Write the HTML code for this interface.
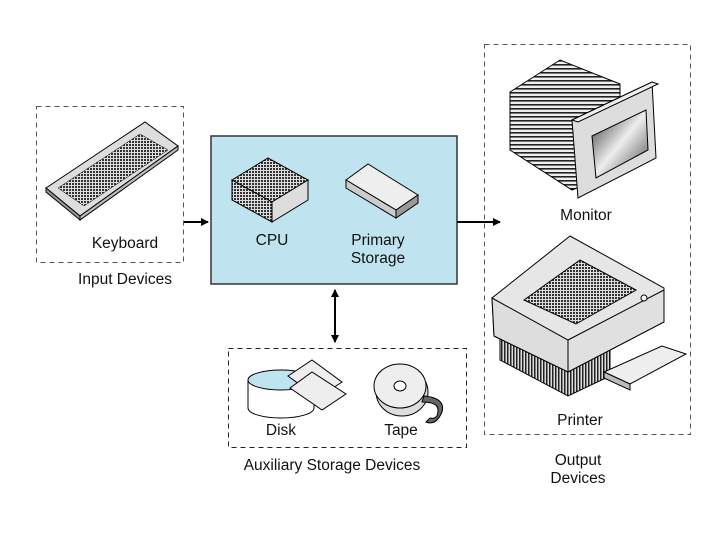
<!DOCTYPE html>
<html><head><meta charset="utf-8"><style>
html,body{margin:0;padding:0;background:#fff;}
svg{display:block;font-family:"Liberation Sans",sans-serif;}
</style></head><body>
<svg width="720" height="540" viewBox="0 0 720 540" xmlns="http://www.w3.org/2000/svg">
<defs>
<pattern id="hatch" width="3" height="3" patternUnits="userSpaceOnUse"><rect width="3" height="3" fill="#ddd"/><rect width="2" height="2" fill="#333"/></pattern>
<pattern id="stripe" width="4" height="4" patternUnits="userSpaceOnUse"><rect width="4" height="4" fill="#eee"/><rect width="4" height="1.6" fill="#222"/></pattern>
<pattern id="vstripe" width="3" height="3" patternUnits="userSpaceOnUse"><rect width="3" height="3" fill="#ddd"/><rect width="1.5" height="3" fill="#222"/></pattern>
<linearGradient id="scr" x1="0" y1="0" x2="1" y2="1"><stop offset="0" stop-color="#333"/><stop offset="0.5" stop-color="#eee"/><stop offset="1" stop-color="#444"/></linearGradient>
<marker id="ah" markerWidth="8" markerHeight="8" refX="7" refY="4" orient="auto-start-reverse" markerUnits="userSpaceOnUse"><path d="M0,0 L8,4 L0,8 z" fill="#000"/></marker>
</defs>
<g fill="none" stroke="#555" stroke-width="1" stroke-dasharray="5,4">
<rect x="36.5" y="106.5" width="147" height="156"/>
<rect x="484.5" y="44.5" width="206" height="390"/>
<rect x="228.5" y="348.5" width="238" height="99" stroke="#222"/>
</g>
<rect x="211" y="136" width="246" height="148" fill="#bfe4ef" stroke="#333" stroke-width="1.5"/>
<line x1="184" y1="222" x2="208" y2="222" stroke="#000" stroke-width="2" marker-end="url(#ah)"/>
<line x1="457" y1="222" x2="500" y2="222" stroke="#000" stroke-width="2" marker-end="url(#ah)"/>
<line x1="335" y1="290" x2="335" y2="342" stroke="#000" stroke-width="2" marker-start="url(#ah)" marker-end="url(#ah)"/>
<!-- keyboard -->
<g stroke="#000" stroke-width="1">
<path d="M46,188 L145,122 L178,146 L80,216 Z" fill="#ddd"/>
<path d="M46,188 L80,216 L80,220 L46,192 Z" fill="#999"/>
<path d="M80,216 L178,146 L178,150 L80,220 Z" fill="#bbb"/>
<path d="M58,188 L140,134 L168,150 L84,206 Z" fill="url(#hatch)" stroke-width="0.5"/>
</g>
<!-- CPU -->
<g stroke="#000" stroke-width="1">
<path d="M232,180 L268,158 L308,180 L272,202 Z" fill="url(#hatch)"/>
<path d="M232,180 L272,202 L272,222 L232,200 Z" fill="url(#hatch)"/>
<path d="M272,202 L308,180 L308,200 L272,222 Z" fill="#ddd"/>
</g>
<!-- primary storage -->
<g stroke="#000" stroke-width="1">
<path d="M346,180 L368,164 L418,195 L396,210 Z" fill="#eee"/>
<path d="M346,180 L396,210 L396,218 L346,188 Z" fill="#ccc"/>
<path d="M396,210 L418,195 L418,203 L396,218 Z" fill="#999"/>
</g>
<!-- monitor -->
<g stroke="#000" stroke-width="1">
<path d="M510,92 L560,60 L620,84 L620,170 L572,190 L510,150 Z" fill="url(#stripe)"/>
<path d="M572,120 L652,82 L656,158 L578,198 Z" fill="#ddd"/>
<path d="M572,120 L652,82 L658,84 L578,122 Z" fill="#eee"/>
<path d="M592,136 L646,110 L648,150 L596,178 Z" fill="url(#scr)"/>
</g>
<!-- printer -->
<g stroke="#000" stroke-width="1">
<path d="M500,310 L500,360 L568,396 L610,376 L610,330 Z" fill="url(#vstripe)"/>
<path d="M492,298 L570,236 L664,288 L664,322 L568,372 L494,336 Z" fill="#e6e6e6"/>
<path d="M492,298 L568,340 L568,372 L494,336 Z" fill="#ddd"/>
<path d="M524,300 L580,260 L636,290 L576,324 Z" fill="url(#hatch)"/>
<path d="M568,340 L664,290 L664,322 L568,372 Z" fill="#e0e0e0"/>
<path d="M604,372 L662,346 L686,354 L630,384 Z" fill="#eee"/>
<path d="M604,372 L630,384 L630,390 L604,378 Z" fill="#bbb"/>
<circle cx="644" cy="298" r="3" fill="#fff"/>
</g>
<!-- disk -->
<g stroke="#000" stroke-width="1">
<path d="M248,380 L248,408 A33,10 0 0 0 314,408 L314,380" fill="#fff"/>
<ellipse cx="281" cy="380" rx="33" ry="10" fill="#bfe4ef"/>
<path d="M288,376 L312,360 L342,382 L318,398 Z" fill="#eee"/>
<path d="M290,388 L312,372 L346,394 L322,410 Z" fill="#eee"/>
</g>
<!-- tape -->
<g stroke="#000" stroke-width="1">
<ellipse cx="402" cy="392" rx="26" ry="24" fill="#ddd"/>
<ellipse cx="400" cy="386" rx="26" ry="22" fill="#eee"/>
<ellipse cx="400" cy="386" rx="6" ry="5" fill="#fff"/>
<path d="M424,396 Q446,398 442,412 Q436,426 426,422 L430,418 Q438,420 438,410 Q438,402 422,402 Z" fill="#666"/>
</g>
<g font-size="15.5" fill="#111" text-anchor="middle">
<text x="125" y="248">Keyboard</text>
<text x="125" y="284">Input Devices</text>
<text x="272" y="245">CPU</text>
<text x="378" y="245">Primary</text>
<text x="378" y="263">Storage</text>
<text x="586" y="220">Monitor</text>
<text x="580" y="425">Printer</text>
<text x="578" y="465">Output</text>
<text x="578" y="483">Devices</text>
<text x="281" y="435">Disk</text>
<text x="401" y="435">Tape</text>
<text x="332" y="470">Auxiliary Storage Devices</text>
</g>
</svg>
</body></html>
